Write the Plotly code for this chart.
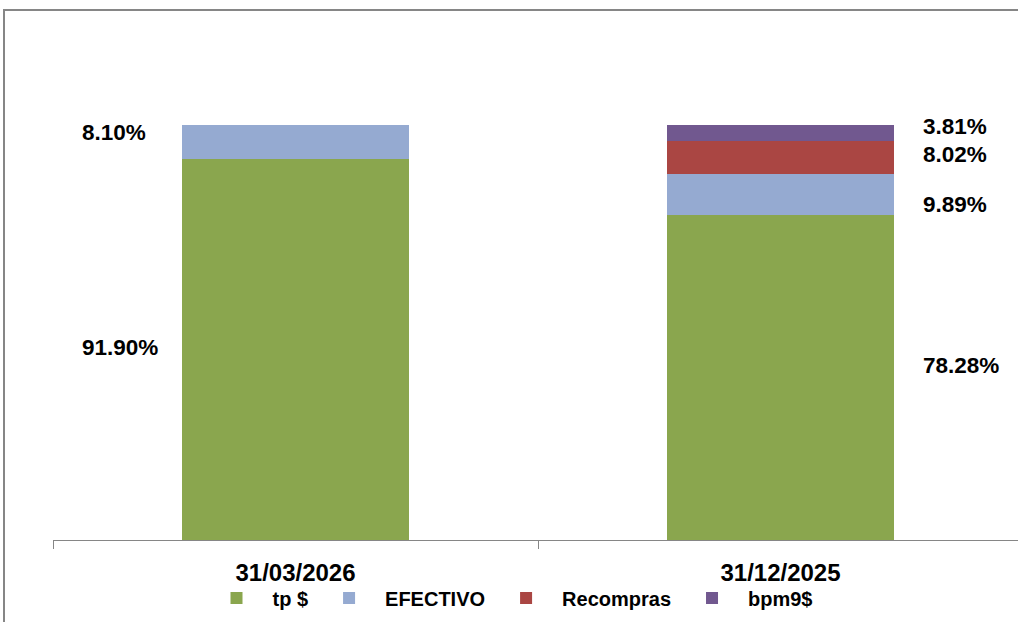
import plotly.graph_objects as go

categories = ["31/03/2026", "31/12/2025"]
series_names = ["tp $", "EFECTIVO", "Recompras", "bpm9$"]
tp = [91.90, 78.28]
efectivo = [8.10, 9.89]
recompras = [0.0, 8.02]
bpm9 = [0.0, 3.81]
colors = ["#8AA64E", "#95AAD1", "#AA4643", "#71588F"]

series_values = [tp, efectivo, recompras, bpm9]

# styling / layout constants (pixels)
W, H = 1018, 622
plot_left, plot_right = 53, 1018
plot_top, plot_bottom = 10, 540
band_px = 485            # pixel width of one category band
full_px = 415            # pixel height of 100%
label_xshift = [-216, 140]                 # per category
label_yshift = {(0, 0): 2, (1, 0): 9, (0, 1): 12, (1, 1): -10, (2, 1): 3, (3, 1): 6}
FONT = "Liberation Sans, Arial, sans-serif"

fig = go.Figure()
for name, vals, col in zip(series_names, series_values, colors):
    fig.add_trace(go.Bar(
        x=categories, y=vals, name=name, marker=dict(color=col, line=dict(width=0)),
        width=0.47, hoverinfo="skip",
    ))

# data labels
annotations = []
for ci in range(len(categories)):
    base = 0.0
    for si, vals in enumerate(series_values):
        v = vals[ci]
        if v > 0:
            annotations.append(dict(
                x=categories[ci], y=base + v / 2, xref="x", yref="y",
                text=f"{v:.2f}%", showarrow=False, xanchor="left", yanchor="middle",
                xshift=label_xshift[ci],
                yshift=label_yshift.get((si, ci), 0),
                font=dict(family=FONT, size=22.5, color="black", weight="bold"),
            ))
        base += v

plot_w = plot_right - plot_left
plot_h = plot_bottom - plot_top
x_range = [-0.5, -0.5 + plot_w / band_px]
y_range = [0, 100 * plot_h / full_px]

fig.update_layout(
    width=W, height=H,
    margin=dict(l=plot_left, r=W - plot_right, t=plot_top, b=H - plot_bottom, pad=0, autoexpand=False),
    barmode="stack",
    plot_bgcolor="white", paper_bgcolor="white",
    showlegend=True,
    legend=dict(
        orientation="h", traceorder="normal",
        xref="container", yref="container", x=0.5, xanchor="center",
        y=1 - 598 / H, yanchor="middle",
        font=dict(family=FONT, size=20, color="black", weight="bold"),
        itemwidth=62,
        bgcolor="rgba(0,0,0,0)",
    ),
    xaxis=dict(
        type="category", range=x_range, showgrid=False, zeroline=False, automargin=False,
        showline=True, linecolor="#868686", linewidth=1,
        ticks="outside", tickson="boundaries", ticklen=8, tickcolor="#868686", tickwidth=1,
        ticklabelstandoff=11,
        tickfont=dict(family=FONT, size=24, color="black", weight="bold"),
    ),
    yaxis=dict(range=y_range, visible=False, showgrid=False, zeroline=False, automargin=False),
    annotations=annotations,
    shapes=[dict(
        type="rect", xref="paper", yref="paper",
        x0=(4 - plot_left) / plot_w, x1=1.2,
        y0=-0.5, y1=1.0,
        line=dict(color="#868686", width=2), fillcolor="rgba(0,0,0,0)", layer="above",
    )],
)

fig.write_html(
    "out.html",
    config={"displayModeBar": False},
    post_script="document.body.style.margin='0';document.body.style.padding='0';document.body.style.overflow='hidden';",
)
